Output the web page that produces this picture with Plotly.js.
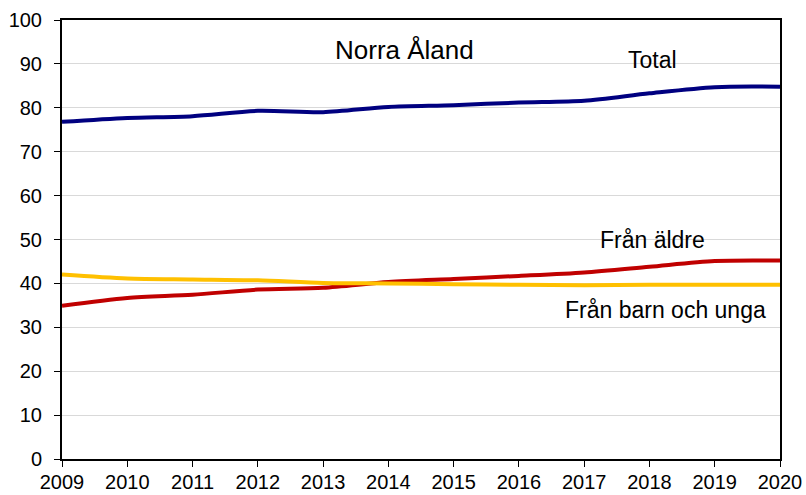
<!DOCTYPE html>
<html><head><meta charset="utf-8">
<script src="https://cdn.plot.ly/plotly-3.0.1.min.js"></script>
<style>html,body{margin:0;padding:0;background:#fff}#c{width:806px;height:495px}</style>
</head><body><div id="c"></div>
<script>
const years = [2009,2010,2011,2012,2013,2014,2015,2016,2017,2018,2019,2020];
const total = [76.8,77.7,78.1,79.3,79.0,80.2,80.6,81.2,81.6,83.3,84.7,84.8];
const aldre = [34.9,36.7,37.4,38.6,39.0,40.3,41.0,41.7,42.5,43.8,45.1,45.2];
const unga = [42.0,41.1,40.9,40.7,40.1,40.0,39.8,39.7,39.6,39.7,39.7,39.7];
const names = ["Total","Från äldre","Från barn och unga"];
const colors = ["#000080","#C00000","#FFC000"];
const series = [total, aldre, unga];
const traces = series.map((s,i)=>({x:years,y:s,type:'scatter',mode:'lines',name:names[i],
  line:{color:colors[i],width:4,shape:'spline',smoothing:0.8},hoverinfo:'skip'}));
const font = {family:'"Liberation Sans", Arial, sans-serif', color:'#000'};
const layout = {
  width:806,height:495,margin:{l:62,r:26,t:20,b:36},
  paper_bgcolor:'#fff',plot_bgcolor:'#fff',showlegend:false,
  font:Object.assign({size:20},font),
  xaxis:{range:[2009,2020],tickmode:'array',tickvals:years,ticktext:years.map(String),
    showgrid:false,zeroline:false,showline:true,linecolor:'#000',linewidth:2,mirror:true,
    ticks:'outside',ticklen:6,tickcolor:'#000',tickwidth:1,tickfont:{size:20},ticklabelstandoff:-2},
  yaxis:{range:[0,100],dtick:10,showgrid:true,gridcolor:'#d9d9d9',gridwidth:1,
    zeroline:false,showline:true,linecolor:'#000',linewidth:2,mirror:true,
    ticks:'outside',ticklen:6,tickcolor:'#000',tickwidth:1,tickfont:{size:20},ticklabelstandoff:8},
  annotations:[
    {x:2014.24,y:93.2,xref:'x',yref:'y',text:'Norra Åland',showarrow:false,font:{size:26}},
    {x:2018.05,y:90.9,xref:'x',yref:'y',text:'Total',showarrow:false,font:{size:23}},
    {x:2018.05,y:49.9,xref:'x',yref:'y',text:'Från äldre',showarrow:false,font:{size:23}},
    {x:2018.24,y:33.9,xref:'x',yref:'y',text:'Från barn och unga',showarrow:false,font:{size:23}}
  ]
};
Plotly.newPlot('c',traces,layout,{staticPlot:true,displayModeBar:false});
</script></body></html>
